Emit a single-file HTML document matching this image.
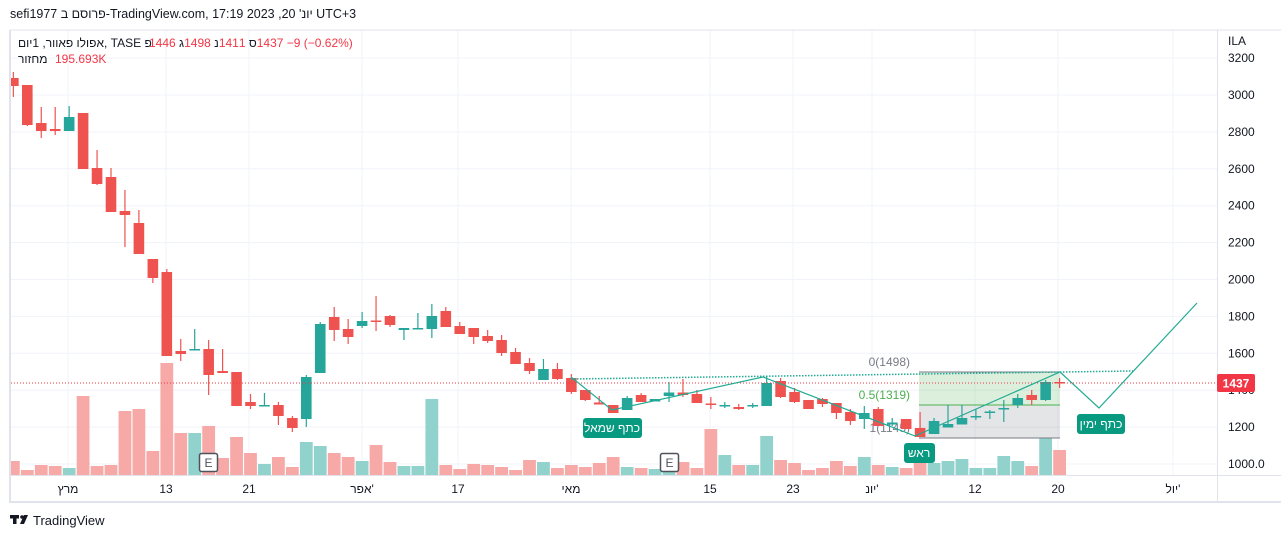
<!DOCTYPE html>
<html><head><meta charset="utf-8"><style>
body{margin:0;background:#fff;width:1281px;height:538px;overflow:hidden;font-family:"Liberation Sans","Noto Sans CJK SC",sans-serif}
svg{position:absolute;left:0;top:0}
text{font-family:"Liberation Sans","Noto Sans CJK SC",sans-serif}
</style></head><body>
<svg id="s" width="1281" height="538" xmlns="http://www.w3.org/2000/svg">
<defs><clipPath id="cp"><rect x="11" y="30" width="1206" height="445"/></clipPath></defs>
<rect x="0" y="0" width="1281" height="538" fill="#fff"/>
<g id="grid" stroke="#f0f3fa" stroke-width="1"></g>
<g id="vol" clip-path="url(#cp)"></g>
<!-- fib box -->
<rect x="919" y="372" width="141" height="33" fill="rgba(76,175,80,0.2)"/>
<rect x="919" y="405" width="141" height="33" fill="rgba(120,123,134,0.2)"/>
<line x1="919" y1="372" x2="1060" y2="372" stroke="#787b86" stroke-width="1"/>
<line x1="919" y1="405" x2="1060" y2="405" stroke="#4caf50" stroke-width="1"/>
<line x1="919" y1="438" x2="1060" y2="438" stroke="#787b86" stroke-width="1"/>
<text x="910" y="366" font-size="12" fill="#787b86" text-anchor="end">0(1498)</text>
<text x="910" y="399" font-size="12" fill="#4caf50" text-anchor="end">0.5(1319)</text>
<text x="910" y="432" font-size="12" fill="#787b86" text-anchor="end">1(1145)</text>
<g id="cnd" clip-path="url(#cp)"></g>
<!-- price line -->
<line x1="11" y1="383" x2="1217" y2="383" stroke="#f23645" stroke-width="1" stroke-dasharray="1,2"/>
<!-- neckline -->
<line x1="571" y1="379" x2="1133" y2="371" stroke="#22ab94" stroke-width="1.5" stroke-dasharray="1.5,1.5"/>
<polyline points="571,377 612,410 763,377 915,436 1060,372 1099,408 1197,303" fill="none" stroke="#22ab94" stroke-width="1.2"/>
<rect x="583" y="418" width="59" height="20" rx="3" fill="#089981"/>
<text x="612" y="432" font-size="12" fill="#fff" text-anchor="middle">כתף שמאל</text>
<rect x="904" y="443" width="31" height="20" rx="3" fill="#089981"/>
<text x="919" y="457" font-size="12" fill="#fff" text-anchor="middle">ראש</text>
<rect x="1077" y="414" width="48" height="20" rx="3" fill="#089981"/>
<text x="1101" y="428" font-size="12" fill="#fff" text-anchor="middle">כתף ימין</text>
<!-- E markers -->
<rect x="199.5" y="453.5" width="18" height="18" rx="2" fill="#fff" stroke="#50535e" stroke-width="1.5"/>
<text x="208.5" y="467" font-size="12" fill="#50535e" text-anchor="middle">E</text>
<rect x="660.5" y="453.5" width="18" height="18" rx="2" fill="#fff" stroke="#50535e" stroke-width="1.5"/>
<text x="669.5" y="467" font-size="12" fill="#50535e" text-anchor="middle">E</text>
<!-- frame -->
<line x1="10" y1="30" x2="10" y2="503" stroke="#e0e3eb" stroke-width="2"/>
<line x1="1217.5" y1="30" x2="1217.5" y2="502" stroke="#e0e3eb"/>
<line x1="10" y1="475.5" x2="1281" y2="475.5" stroke="#e0e3eb"/>
<line x1="10" y1="502" x2="1281" y2="502" stroke="#e0e3eb" stroke-width="2"/>
<line x1="10" y1="30" x2="1281" y2="30" stroke="#e0e3eb"/>
<g id="ylab" font-size="12" fill="#131722"></g>
<text x="1228" y="45" font-size="12" fill="#131722">ILA</text>
<rect x="1217" y="374" width="38" height="18" rx="2" fill="#f23645"/>
<text x="1236" y="387.5" font-size="12" font-weight="bold" fill="#fff" text-anchor="middle">1437</text>
<g font-size="12" fill="#131722" text-anchor="middle">
<text x="68" y="493">מרץ</text><text x="166" y="493">13</text><text x="249" y="493">21</text>
<text x="362" y="493">אפר'</text><text x="458" y="493">17</text><text x="571" y="493">מאי</text>
<text x="710" y="493">15</text><text x="793" y="493">23</text><text x="872" y="493">יונ'</text>
<text x="975" y="493">12</text><text x="1058" y="493">20</text><text x="1173" y="493">יול'</text>
</g>
<!-- header -->
<text x="10" y="18" font-size="12.5" fill="#131722" direction="ltr" unicode-bidi="bidi-override">sefi1977 ב םסורפ-TradingView.com, 17:19 2023 ,20 'נוי UTC+3</text>
<text x="18" y="47" font-size="12" fill="#131722" unicode-bidi="bidi-override" direction="ltr">םוי1 ,רוואפ ולופא, TASE  פ</text>
<text x="149" y="47" font-size="12" fill="#f23645" unicode-bidi="bidi-override" direction="ltr">1446 <tspan fill="#131722">ג</tspan>1498 <tspan fill="#131722">נ</tspan>1411 <tspan fill="#131722">ס</tspan>1437  −9 (−0.62%)</text>
<text x="18" y="63" font-size="12" fill="#131722" unicode-bidi="bidi-override" direction="ltr">רוזחמ</text>
<text x="55" y="63" font-size="12" fill="#f23645">195.693K</text>
<!-- logo -->
<g fill="#131722"><rect x="10" y="515" width="9" height="3.5"/><rect x="13" y="515" width="3.5" height="9"/><circle cx="22" cy="517" r="1.8"/><polygon points="24,515 28,515 24,524 20,524"/></g>
<text x="33" y="525" font-size="13" fill="#131722">TradingView</text>
</svg>
<script>
var ns="http://www.w3.org/2000/svg";
function el(g,t,a){var e=document.createElementNS(ns,t);for(var k in a)e.setAttribute(k,a[k]);document.getElementById(g).appendChild(e);return e;}
for(var i=0;i<12;i++){var y=464-i*36.9;el("grid","line",{x1:10,x2:1217,y1:y,y2:y});
 var p=1000+i*200;var t=el("ylab","text",{x:1228,y:y+4});t.textContent=(p==1000?"1000.0":p);}
[68,166,249,362,458,571,710,793,872,975,1058,1173].forEach(function(x){el("grid","line",{x1:x,x2:x,y1:30,y2:475});});
var C=[[0,78,86,72,97],[0,85,125,85,126],[0,123,131,107,138],[0,129,131,107,135],[1,117,131,106,131],[0,113,169,113,169],[0,168,184,150,185],[0,177,212,168,212],[0,211,215,190,247],[0,223,254,210,254],
[0,259,278,259,283],[0,272,356,269,356],[0,351,354,339,361],[1,349,350,329,350],[0,349,375,340,395],[0,371,373,349,373],[0,372,406,372,406],[0,402,406,394,409],[1,405,406,393,406],[0,405,416,402,425],
[0,418,428,416,432],[1,377,419,375,427],[1,324,373,322,373],[0,317,330,307,341],[0,329,337,319,344],[1,321,326,312,328],[0,320.5,322,296,331],[0,316,325,315,327],[1,328,330,328,340],[1,328,329,313,329],
[1,316,329,304,338],[0,311,327,307,327],[0,326,334,322,334],[0,328,337,328,344],[0,336,341,330,343],[0,340,353,335,356],[0,352,364,348,364],[0,363,371,358,374],[1,369,380,359,380],[0,369,379,363,380],
[0,378,392,374,394],[0,390,400,390,401],[0,402.5,404.5,396,404.5],[0,405,413,405,413],[1,398,410,396,410],[0,395,402,393,402],[1,399,401.5,399,401.5],[1,392.5,396,382,402],[0,392.5,395,379,397],[0,394,403,390,403],
[0,403.5,405,397,409],[1,405,406.5,402,408],[0,407,409,404,410],[1,405,406.5,403,408],[1,383,406,376,406],[0,381,397,378,398],[0,392,402,388,403],[0,400,409,400,409],[0,399,404,398,407],[0,403,413,403,419],
[0,412,421,409,425],[1,413,419,406,429],[0,409,426,407,426],[1,422.5,424.5,418,426],[0,419,429,419,429],[0,428,437,412,437],[1,421,434,418,434],[1,424,427.5,405,427.5],[1,418,424.5,405,424.5],[1,416,417.5,409,420],
[1,411.5,413,410,419],[1,408,409.5,400,422],[1,398,405,394,408],[0,395,400,390,405],[1,382,400,380,401],[0,382,383.5,378,388]];
var V=[461,470,465,466,468,396,466,465,411,409,451,363,433,433,426,458,437,453,464,457,467,442,446,453,457,461,445,462,466,466,399,465,469,464,465,467,470,460,462,468,465,467,463,457,467,468,469,468,462,468,429,455,465,465,436,460,463,470,468,461,466,457,465,467,468,462,463,461,459,468,468,456,461,466,438,450];
for(var i=0;i<C.length;i++){var c=C[i],x=13.35+13.95*i,col=c[0]?"#26a69a":"#ef5350";
 var v=V[i];el("vol","rect",{x:x-6.4,y:v,width:12.8,height:475-v,fill:c[0]?"#92d2cc":"#f7a9a7"});
 el("cnd","line",{x1:x,x2:x,y1:c[3],y2:c[4],stroke:col,"stroke-width":1.2});
 el("cnd","rect",{x:x-5.3,y:c[1],width:10.6,height:Math.max(1.5,c[2]-c[1]),fill:col});}
</script>
</body></html>
